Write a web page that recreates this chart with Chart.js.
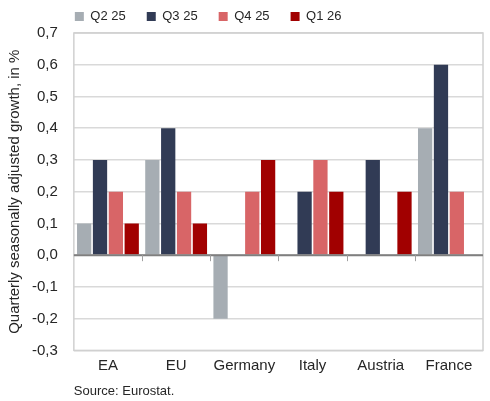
<!DOCTYPE html>
<html>
<head>
<meta charset="utf-8">
<script src="https://cdn.jsdelivr.net/npm/chart.js@4/dist/chart.umd.min.js"></script>
<style>
html,body{margin:0;padding:0;background:#fff;}
#wrap{width:490px;height:401px;}
</style>
</head>
<body>
<div id="wrap"><canvas id="c" width="490" height="401"></canvas></div>
<script>
const categories = ["EA", "EU", "Germany", "Italy", "Austria", "France"];
const seriesNames = ["Q2 25", "Q3 25", "Q4 25", "Q1 26"];
const q2_25 = [0.1, 0.3, -0.2, 0.0, 0.0, 0.4];
const q3_25 = [0.3, 0.4, 0.0, 0.2, 0.3, 0.6];
const q4_25 = [0.2, 0.2, 0.2, 0.3, 0.0, 0.2];
const q1_26 = [0.1, 0.1, 0.3, 0.2, 0.2, null];
const seriesColors = ["#A6ADB3", "#313B55", "#D86567", "#A10000"];
const yTicks = [-0.3, -0.2, -0.1, 0, 0.1, 0.2, 0.3, 0.4, 0.5, 0.6, 0.7];
const sourceText = "Source: Eurostat.";
const yTitle = "Quarterly seasonally adjusted growth, in %";

const FONT = "'Liberation Sans', Arial, sans-serif";
const TEXT = "#262626";
const LEGEND_PAD = 21;

const frame = {
  id: 'frame',
  afterLayout(chart) {
    if (chart.legend) chart.legend.left = chart.chartArea.left + 1 - LEGEND_PAD;
  },
  beforeDatasetsDraw(chart) {
    const {ctx, chartArea: a} = chart;
    ctx.save();
    ctx.strokeStyle = '#D0D0D0';
    ctx.lineWidth = 1.5;
    ctx.strokeRect(a.left, a.top, a.right - a.left, a.bottom - a.top);
    ctx.restore();
  },
  afterDatasetsDraw(chart) {
    const {ctx, chartArea: a, scales} = chart;
    const y0 = scales.y.getPixelForValue(0);
    const xs = scales.x;
    ctx.save();
    ctx.strokeStyle = '#7F7F7F';
    ctx.lineWidth = 2;
    ctx.beginPath();
    ctx.moveTo(a.left, y0);
    ctx.lineTo(a.right, y0);
    ctx.stroke();
    ctx.lineWidth = 1;
    ctx.strokeStyle = '#A0A0A0';
    for (let i = 1; i < categories.length; i++) {
      const x = Math.round((xs.getPixelForTick(i - 1) + xs.getPixelForTick(i)) / 2) + 0.5;
      ctx.beginPath();
      ctx.moveTo(x, y0);
      ctx.lineTo(x, y0 + 6);
      ctx.stroke();
    }
    ctx.restore();
  }
};

new Chart(document.getElementById('c'), {
  type: 'bar',
  data: {
    labels: categories,
    datasets: [q2_25, q3_25, q4_25, q1_26].map((d, i) => ({
      label: seriesNames[i],
      data: d,
      backgroundColor: seriesColors[i],
      borderWidth: 0,
      barPercentage: 0.9,
      categoryPercentage: 0.93
    }))
  },
  options: {
    responsive: false,
    animation: false,
    devicePixelRatio: 1,
    layout: {padding: {left: 0, right: 7, top: -11, bottom: 2}},
    plugins: {
      legend: {
        position: 'top',
        align: 'start',
        fullSize: false,
        labels: {
          boxWidth: 9, boxHeight: 9, padding: LEGEND_PAD,
          color: TEXT,
          font: {family: FONT, size: 13}
        }
      },
      title: {display: false},
      subtitle: {
        display: true,
        text: sourceText,
        position: 'bottom',
        align: 'start',
        fullSize: false,
        color: TEXT,
        font: {family: FONT, size: 13},
        padding: {top: 3, bottom: 0}
      },
      tooltip: {enabled: false}
    },
    scales: {
      x: {
        grid: {display: false, drawTicks: false},
        border: {display: false},
        ticks: {color: TEXT, font: {family: FONT, size: 15}, padding: 6, maxRotation: 0, minRotation: 0, autoSkip: false}
      },
      y: {
        min: -0.3, max: 0.7,
        afterBuildTicks(axis) { axis.ticks = yTicks.map(v => ({value: v})); },
        grid: {color: '#D9D9D9', lineWidth: 1.5, drawTicks: false},
        border: {display: false},
        ticks: {
          color: TEXT,
          font: {family: FONT, size: 15},
          padding: 16,
          callback: v => v.toFixed(1).replace('.', ',').replace('-0,0', '0,0')
        },
        title: {
          display: true,
          text: yTitle,
          color: TEXT,
          font: {family: FONT, size: 15},
          padding: {top: 6, bottom: -8}
        }
      }
    }
  },
  plugins: [frame]
});
</script>
</body>
</html>
